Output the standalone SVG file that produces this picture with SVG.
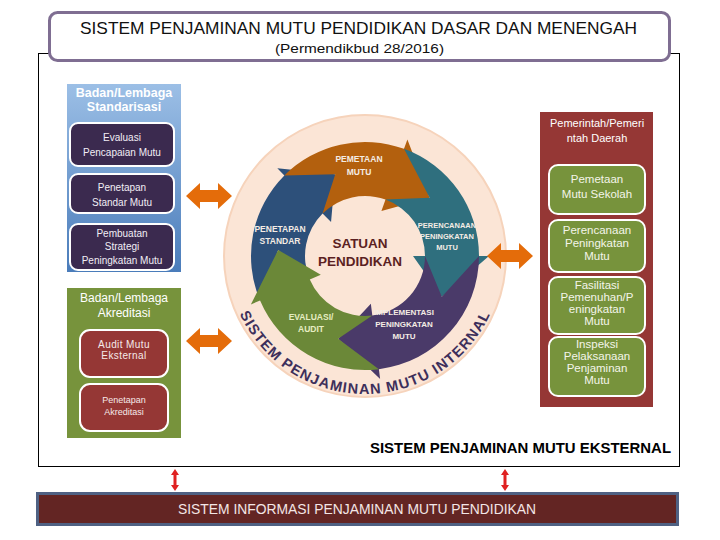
<svg xmlns="http://www.w3.org/2000/svg" width="720" height="540" viewBox="0 0 720 540">
<defs>
<linearGradient id="gBlue" x1="0" y1="0" x2="0" y2="1">
<stop offset="0" stop-color="#9cbfe6"/>
<stop offset="1" stop-color="#4a7cba"/>
</linearGradient>
<path id="dbl" d="M -23,0 L -9,-13 L -9,-6 L 9,-6 L 9,-13 L 23,0 L 9,13 L 9,6 L -9,6 L -9,13 Z"/>
<path id="red" d="M 0,-11 L 4,-5 L 1.5,-5 L 1.5,5 L 4,5 L 0,11 L -4,5 L -1.5,5 L -1.5,-5 L -4,-5 Z"/>
<path id="ringPath" d="M 237.05,307.69 A 138 138 0 0 0 492.95,307.69"/>
</defs>
<style>
text{font-family:"Liberation Sans",Arial,sans-serif;text-anchor:middle}
.ttl{font-size:17px;fill:#111}
.sub{font-size:13px;fill:#111}
.phd{font-size:12.5px;fill:#fff;font-weight:bold}
.lbx{fill:#3b2a4f;stroke:#fff;stroke-width:2}
.lt{font-size:10px;fill:#f2eef5}
.rbx{fill:#953735;stroke:#fff;stroke-width:2}
.rt{font-size:10px;fill:#f5e9e9;letter-spacing:0.4px}
.gbx{fill:#77933c;stroke:#fff;stroke-width:2}
.gt{font-size:11.5px;fill:#f4f5ea}
.cyc{font-size:8.5px;font-weight:bold;fill:#f4ece4}
.ring{font-size:14.5px;font-weight:bold;fill:#3d2f5b;letter-spacing:1.2px;text-anchor:start}
.orange{fill:#e46c0a}
.redarr{fill:#e02222}
</style>
<rect x="38.5" y="53.5" width="641" height="413" fill="#fff" stroke="#000" stroke-width="1"/>
<g id="title">
<rect x="49.5" y="12.5" width="620" height="48" rx="8" fill="#fff" stroke="#7f6e92" stroke-width="3"/>
<text class="ttl" x="358.5" y="34" textLength="557" lengthAdjust="spacingAndGlyphs">SISTEM PENJAMINAN MUTU PENDIDIKAN DASAR DAN MENENGAH</text>
<text class="sub" x="359.5" y="53" textLength="169" lengthAdjust="spacingAndGlyphs">(Permendikbud 28/2016)</text>
</g>
<g id="standarisasi">
<rect x="67" y="84" width="114" height="188" fill="url(#gBlue)"/>
<text class="phd" x="124" y="97">Badan/Lembaga</text>
<text class="phd" x="124" y="111">Standarisasi</text>
<rect class="lbx" x="70" y="123" width="104" height="43" rx="8"/>
<text class="lt" x="122" y="141">Evaluasi</text>
<text class="lt" x="122" y="156">Pencapaian Mutu</text>
<rect class="lbx" x="70" y="174" width="104" height="39" rx="8"/>
<text class="lt" x="122" y="191">Penetapan</text>
<text class="lt" x="122" y="206">Standar Mutu</text>
<rect class="lbx" x="70" y="224" width="104" height="46" rx="8"/>
<text class="lt" x="122" y="237">Pembuatan</text>
<text class="lt" x="122" y="250">Strategi</text>
<text class="lt" x="122" y="264">Peningkatan Mutu</text>
</g>
<g id="akreditasi">
<rect x="67" y="288" width="114" height="150" fill="#77933c"/>
<text class="phd" x="124" y="302" style="font-weight:normal;font-size:12px">Badan/Lembaga</text>
<text class="phd" x="124" y="317" style="font-weight:normal;font-size:12px">Akreditasi</text>
<rect class="rbx" x="80" y="330" width="88" height="47" rx="10"/>
<text class="rt" x="124" y="348">Audit Mutu</text>
<text class="rt" x="124" y="359">Eksternal</text>
<rect class="rbx" x="80" y="384" width="88" height="47" rx="10"/>
<text class="rt" x="124" y="403" style="font-size:9px;letter-spacing:0">Penetapan</text>
<text class="rt" x="124" y="415" style="font-size:9px;letter-spacing:0">Akreditasi</text>
</g>
<g id="pemerintah">
<rect x="540" y="112" width="113" height="295" fill="#953735"/>
<text x="597" y="127" style="font-size:11px;fill:#fff">Pemerintah/Pemeri</text>
<text x="597" y="142" style="font-size:11px;fill:#fff">ntah Daerah</text>
<rect class="gbx" x="549" y="165" width="96" height="49" rx="9"/>
<text class="gt" x="597" y="183">Pemetaan</text>
<text class="gt" x="597" y="198">Mutu Sekolah</text>
<rect class="gbx" x="549" y="220" width="96" height="52" rx="9"/>
<text class="gt" x="597" y="234">Perencanaan</text>
<text class="gt" x="597" y="247">Peningkatan</text>
<text class="gt" x="597" y="260">Mutu</text>
<rect class="gbx" x="549" y="277" width="96" height="57" rx="9"/>
<text class="gt" x="597" y="289">Fasilitasi</text>
<text class="gt" x="597" y="301">Pemenuhan/P</text>
<text class="gt" x="597" y="313">eningkatan</text>
<text class="gt" x="597" y="325">Mutu</text>
<rect class="gbx" x="549" y="337" width="96" height="59" rx="9"/>
<text class="gt" x="597" y="348">Inspeksi</text>
<text class="gt" x="597" y="360">Pelaksanaan</text>
<text class="gt" x="597" y="372">Penjaminan</text>
<text class="gt" x="597" y="384">Mutu</text>
</g>
<g id="spmi">
<circle cx="365" cy="256" r="141" fill="#fbe5d6" stroke="#f6d3bb" stroke-width="2"/>
<path fill="#2d507a" d="M 260.06,300.54 A 114 114 0 0 1 284.39,175.39 L 277.32,168.32 L 335.25,174.25 L 331.06,222.06 L 322.57,213.57 A 60 60 0 0 0 309.77,279.44 L 278.21,249.93 Z"/>
<path fill="#b3600e" d="M 284.39,175.39 A 114 114 0 0 1 403.99,148.87 L 407.41,139.48 L 429.65,197.79 L 381.42,210.89 L 385.52,199.62 A 60 60 0 0 0 322.57,213.57 L 335.25,174.25 Z"/>
<path fill="#2f6f7e" d="M 403.99,148.87 A 114 114 0 0 1 479,256 L 489,256 L 441.81,296.85 L 413,256 L 425,256 A 60 60 0 0 0 385.52,199.62 L 429.65,197.79 Z"/>
<path fill="#4a3a69" d="M 479,256 A 114 114 0 0 1 378.90,369.15 L 380.12,379.07 L 338.12,338.74 L 370.85,303.64 L 372.31,315.55 A 60 60 0 0 0 425,256 L 441.81,296.85 Z"/>
<path fill="#6b8838" d="M 378.90,369.15 A 114 114 0 0 1 260.06,300.54 L 250.86,304.45 L 278.21,249.93 L 320.82,274.75 L 309.77,279.44 A 60 60 0 0 0 372.31,315.55 L 338.12,338.74 Z"/>
<text class="cyc" x="359" y="162">PEMETAAN</text>
<text class="cyc" x="359" y="175">MUTU</text>
<text class="cyc" x="280" y="232">PENETAPAN</text>
<text class="cyc" x="280" y="244">STANDAR</text>
<text class="cyc" x="447" y="228" style="font-size:7.5px">PERENCANAAN</text>
<text class="cyc" x="447" y="239" style="font-size:7.5px">PENINGKATAN</text>
<text class="cyc" x="447" y="250" style="font-size:7.5px">MUTU</text>
<text class="cyc" x="404" y="315" style="font-size:8px">IMPLEMENTASI</text>
<text class="cyc" x="404" y="327" style="font-size:8px">PENINGKATAN</text>
<text class="cyc" x="404" y="339" style="font-size:8px">MUTU</text>
<text class="cyc" x="311" y="320" style="fill:#e6edc2">EVALUASI/</text>
<text class="cyc" x="311" y="332" style="fill:#e6edc2">AUDIT</text>
<text x="360" y="248" style="font-size:13.5px;font-weight:bold;fill:#5b1f22">SATUAN</text>
<text x="360" y="266" style="font-size:13.5px;font-weight:bold;fill:#5b1f22">PENDIDIKAN</text>
<text class="ring"><textPath href="#ringPath" startOffset="6.6">SISTEM</textPath></text>
<text class="ring"><textPath href="#ringPath" startOffset="73">PENJAMINAN</textPath></text>
<text class="ring"><textPath href="#ringPath" startOffset="186.1">MUTU</textPath></text>
<text class="ring"><textPath href="#ringPath" startOffset="238">INTERNAL</textPath></text>
</g>
<g id="connectors">
<use href="#dbl" class="orange" x="209" y="196"/>
<use href="#dbl" class="orange" x="209" y="341"/>
<use href="#dbl" class="orange" x="510" y="256"/>
<use href="#red" class="redarr" x="175" y="480"/>
<use href="#red" class="redarr" x="505" y="480"/>
</g>
<g id="spme">
<text x="520.5" y="453" textLength="301" lengthAdjust="spacingAndGlyphs" style="font-size:15px;font-weight:bold;fill:#000">SISTEM PENJAMINAN MUTU EKSTERNAL</text>
</g>
<g id="sispmp">
<rect x="37.5" y="493.5" width="640" height="31" fill="#632523" stroke="#4f6183" stroke-width="3"/>
<text x="357" y="514" textLength="358" lengthAdjust="spacingAndGlyphs" style="font-size:14px;fill:#f3e6e6">SISTEM INFORMASI PENJAMINAN MUTU PENDIDIKAN</text>
</g>
</svg>
